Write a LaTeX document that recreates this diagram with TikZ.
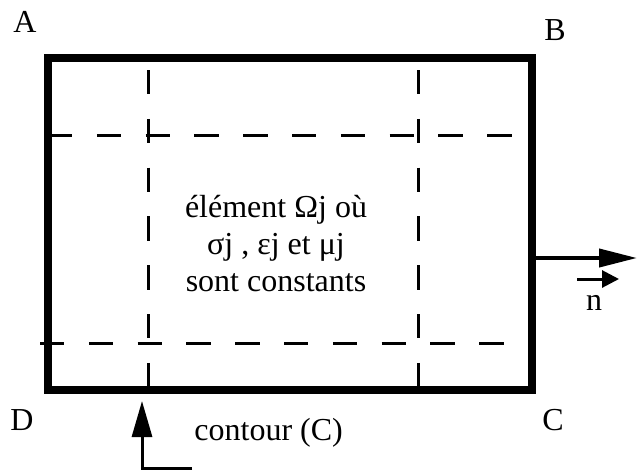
\documentclass[tikz,border=0pt]{standalone}
\usepackage{fontspec}
\setmainfont{Liberation Serif}
\usetikzlibrary{positioning,arrows.meta}

\begin{document}
\begin{tikzpicture}[x=0.5pt,y=-0.5pt,font=\fontsize{16}{18.5}\selectfont,
 bord/.style={line width=4pt},
 tiret/.style={line width=1.5pt,dash pattern=on 12.2pt off 12.2pt},
 ar/.style={-{Triangle[length=19pt,width=9pt]},line width=2pt},
 arp/.style={-{Triangle[length=8.5pt,width=8.5pt]},line width=1.5pt},
 arc/.style={-{Triangle[length=18pt,width=10pt]},line width=1.5pt}]
\useasboundingbox (0,0) rectangle (637,472);
\coordinate (a) at (48,58); \coordinate (c) at (532,390);
\draw[bord] (a) rectangle (c);
% lignes en tirets du maillage
\draw[tiret] (148,70) -- (148,390); \draw[tiret] (418,70) -- (418,390);
\draw[tiret] (48,135) -- (514,135); \draw[tiret] (40,343) -- (505,343);
\node (lA) at (25,22) {A}; \node (lB) at (555,30) {B};
\node (lD) at (22,420) {D}; \node (lC) at (553,420) {C};
\node[align=center] (elem) at (276,244) {élément Ωj où\\σj , εj et μj\\sont constants};
% normale sortante
\coordinate (n0) at (532,258); \coordinate (n1) at (637,258);
\draw[ar] (n0) -- (n1);
\node (n) at (594,303) {n};
\coordinate (v0) at (577,279); \coordinate (v1) at (619,279);
\draw[arp] (v0) -- (v1);
% contour
\coordinate (k0) at (192,468); \coordinate (k1) at (142,468); \coordinate (k2) at (142,401);
\draw[arc] (k0) -- (k1) -- (k2);
\node[anchor=base west,inner sep=0pt] (cont) at (194,440) {contour (C)};
\end{tikzpicture}
\end{document}
